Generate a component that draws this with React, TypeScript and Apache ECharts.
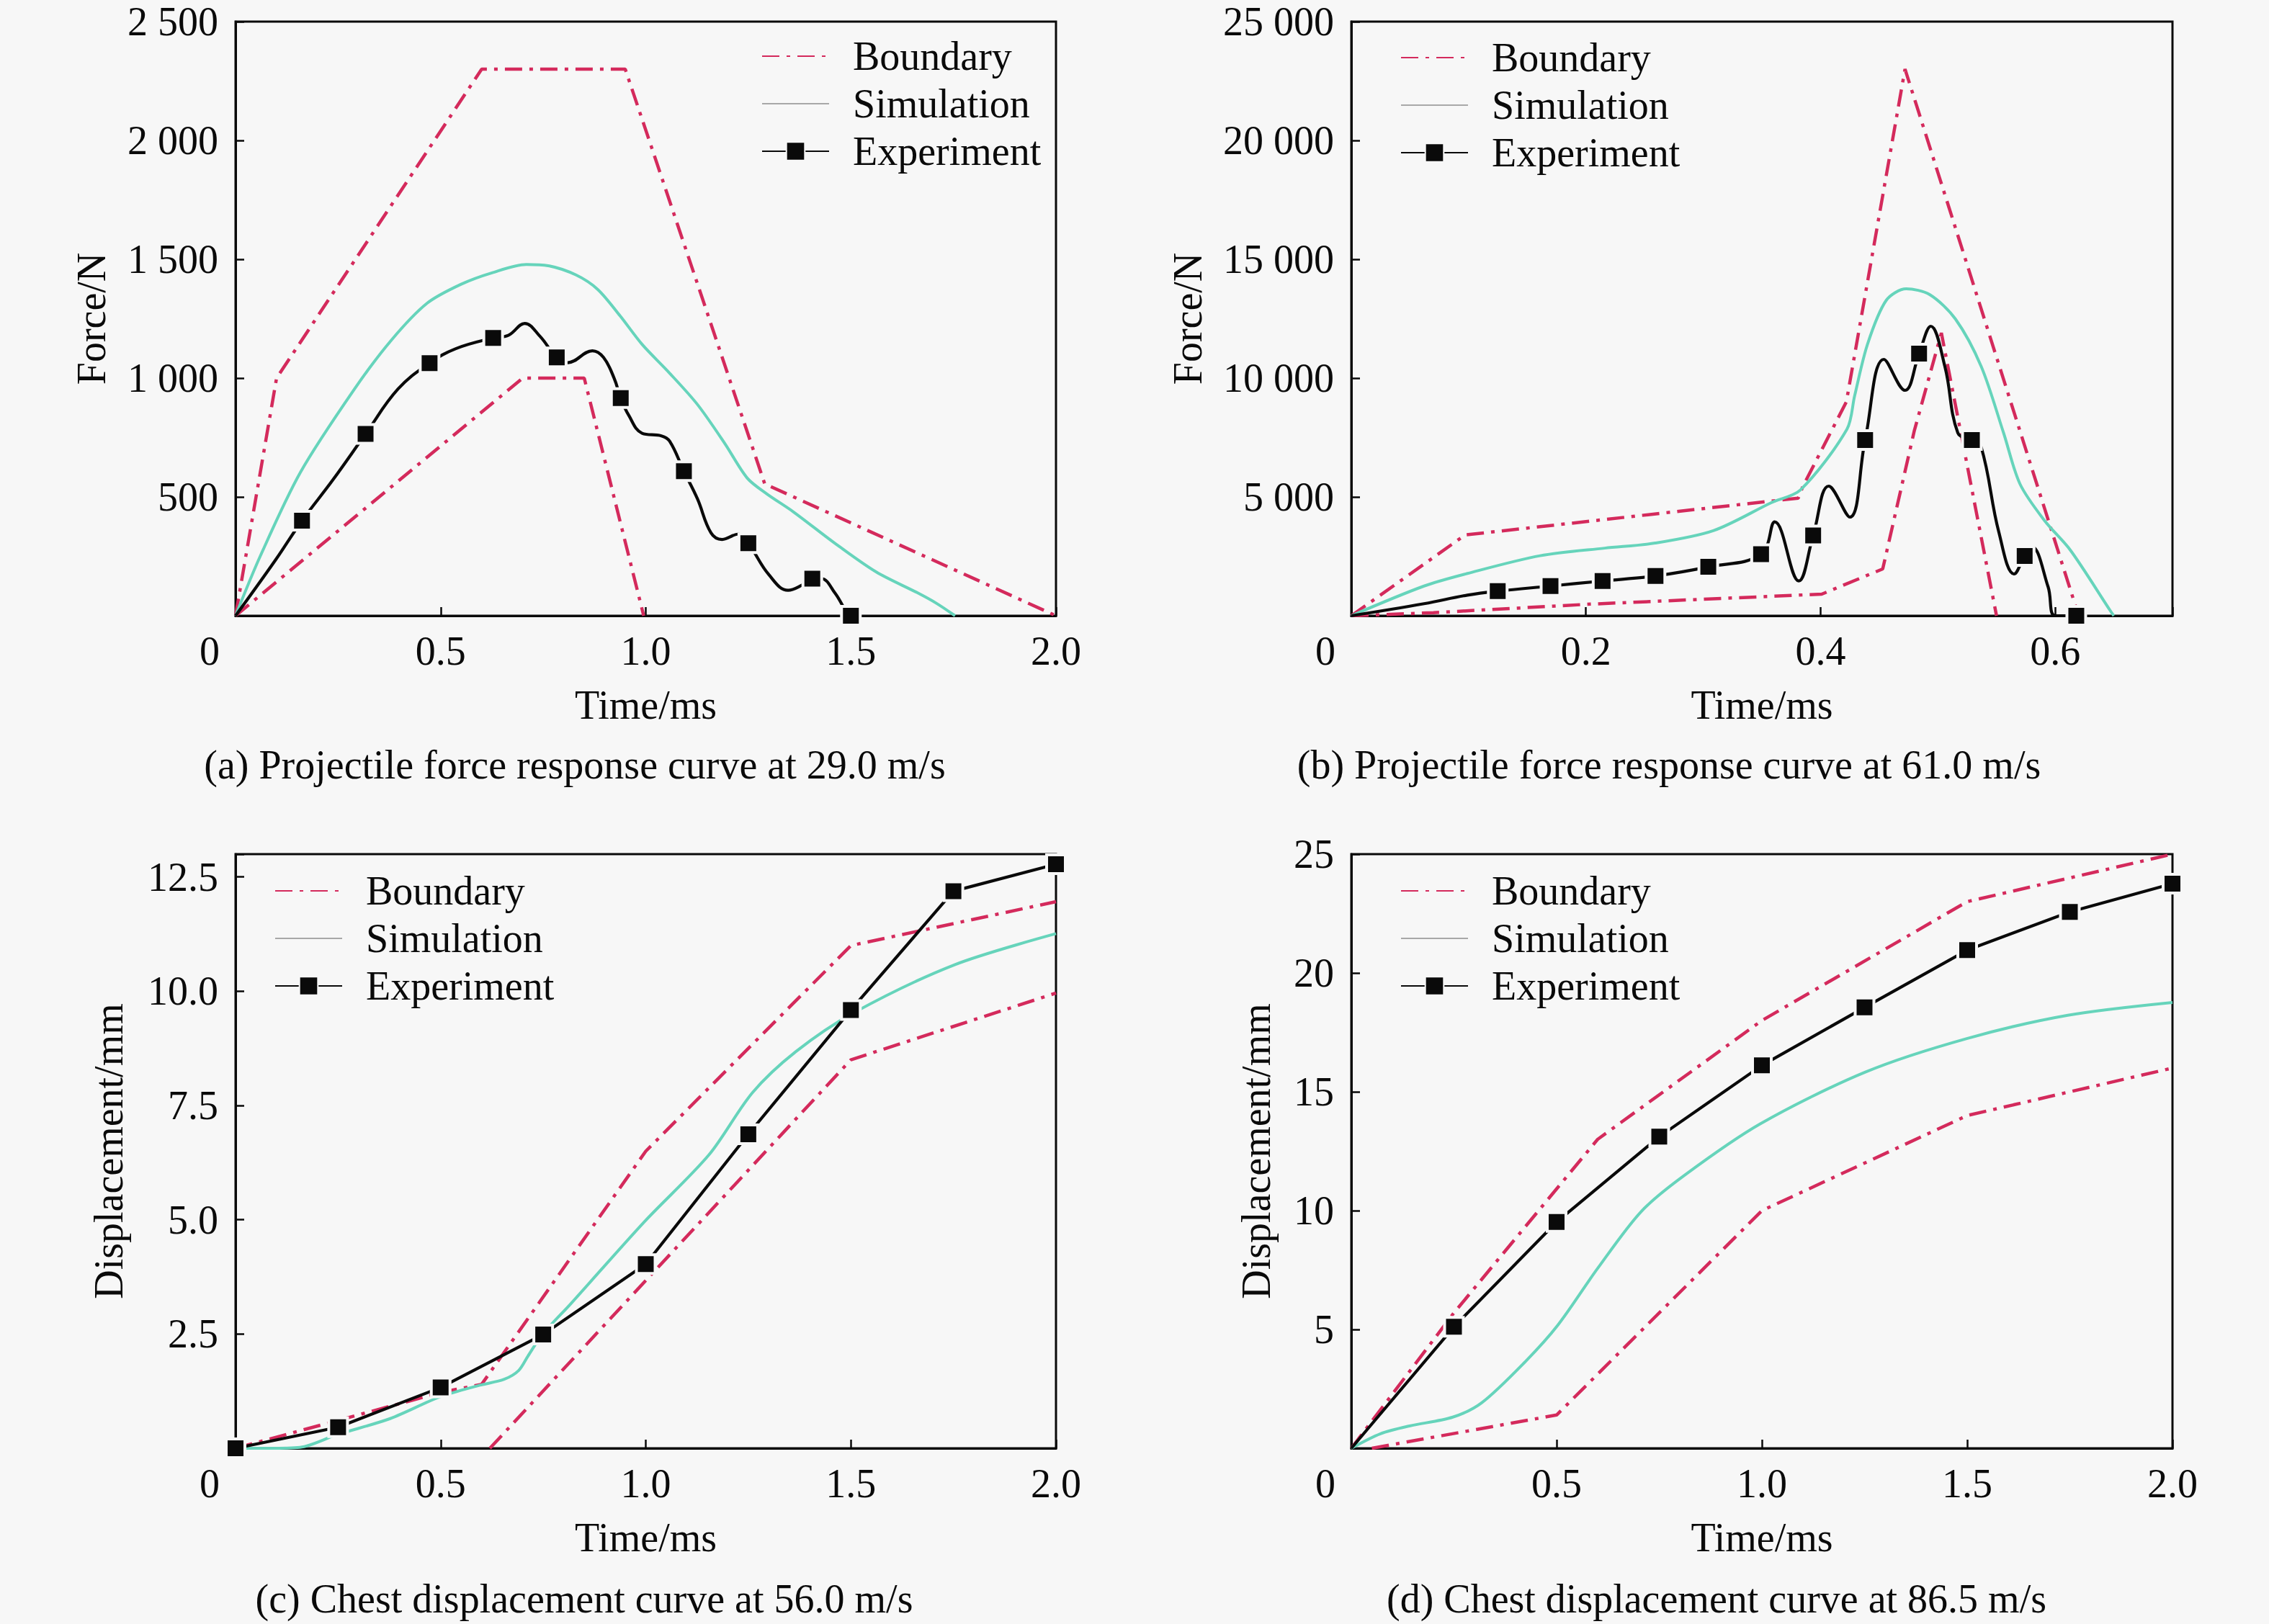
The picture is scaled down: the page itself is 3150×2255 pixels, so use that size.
import React, { useEffect, useRef } from "react";
import * as echarts from "echarts";

const FONT = "'Liberation Serif', 'Times New Roman', Times, serif";
const FS = 56;
const CRIMSON = "#d42a5c";
const TEAL = "#66d4bb";
const BLACK = "#0a0a0a";
const BG = "#f7f7f7";
const LEGEND_GRAY = "#a8a8a8";

// ---------------- tick labels ----------------
const timeTicks = [0, 0.5, 1.0, 1.5, 2.0];
const timeTickLabels = ["0", "0.5", "1.0", "1.5", "2.0"];
const timeTicksB = [0, 0.2, 0.4, 0.6];
const timeTickLabelsB = ["0", "0.2", "0.4", "0.6"];
const forceTicksA = [500, 1000, 1500, 2000, 2500];
const forceTickLabelsA = ["500", "1 000", "1 500", "2 000", "2 500"];
const forceTicksB = [5000, 10000, 15000, 20000, 25000];
const forceTickLabelsB = ["5 000", "10 000", "15 000", "20 000", "25 000"];
const dispTicksC = [2.5, 5, 7.5, 10, 12.5];
const dispTickLabelsC = ["2.5", "5.0", "7.5", "10.0", "12.5"];
const dispTicksD = [5, 10, 15, 20, 25];
const dispTickLabelsD = ["5", "10", "15", "20", "25"];

const legendNames = ["Boundary", "Simulation", "Experiment"];
const captions = [
  "(a) Projectile force response curve at 29.0 m/s",
  "(b) Projectile force response curve at 61.0 m/s",
  "(c) Chest displacement curve at 56.0 m/s",
  "(d) Chest displacement curve at 86.5 m/s",
];

// ---------------- (a) 29.0 m/s force ----------------
const aBoundaryUpper = [[0, 0], [0.1, 1000], [0.6, 2300], [0.95, 2300], [1.29, 555], [2.0, 0]];
const aBoundaryLower = [[0, 0], [0.7, 1000], [0.85, 1000], [0.995, 0]];
const aSimulation = [
  [0, 0], [0.06, 250], [0.158, 603], [0.29, 954], [0.38, 1160], [0.467, 1315], [0.55, 1395],
  [0.625, 1443], [0.709, 1478], [0.762, 1473], [0.83, 1434], [0.883, 1373], [0.937, 1263],
  [0.991, 1142], [1.058, 1021], [1.126, 889], [1.193, 724], [1.247, 580], [1.294, 514],
  [1.36, 437], [1.461, 305], [1.562, 184], [1.663, 96], [1.709, 52], [1.754, 0],
];
// [time, force, marker]
const aExperiment = [
  [0, 0, 0], [0.096, 231, 0], [0.162, 400, 1], [0.237, 571, 0], [0.317, 765, 1], [0.396, 954, 0],
  [0.473, 1063, 1], [0.537, 1124, 0], [0.628, 1169, 1], [0.665, 1180, 0], [0.705, 1230, 0],
  [0.742, 1176, 0], [0.783, 1087, 1], [0.81, 1065, 0], [0.87, 1115, 0], [0.897, 1087, 0],
  [0.923, 999, 0], [0.939, 916, 1], [0.958, 845, 0], [0.991, 768, 0], [1.038, 757, 0],
  [1.058, 735, 0], [1.093, 608, 1], [1.126, 492, 0], [1.159, 349, 0], [1.186, 321, 0],
  [1.226, 344, 0], [1.25, 305, 1], [1.3, 173, 0], [1.347, 107, 0], [1.381, 129, 0],
  [1.406, 156, 1], [1.428, 156, 0], [1.461, 96, 0], [1.492, 8, 0], [1.5, 0, 1],
];

// ---------------- (b) 61.0 m/s force ----------------
const bBoundaryUpper = [[0, 0], [0.097, 3400], [0.381, 4950], [0.385, 5450], [0.422, 9000], [0.472, 23000], [0.602, 2800], [0.62, 0]];
const bBoundaryLower = [[0, 0], [0.07, 130], [0.204, 490], [0.401, 910], [0.453, 1970], [0.48, 7800], [0.503, 11900], [0.55, 0]];
const bSimulation = [
  [0, 0], [0.062, 1250], [0.099, 1780], [0.161, 2527], [0.216, 2845], [0.259, 3058], [0.309, 3588],
  [0.358, 4758], [0.383, 5300], [0.4225, 7850], [0.429, 9242], [0.44, 11424], [0.456, 13273],
  [0.473, 13758], [0.493, 13515], [0.515, 12485], [0.537, 10485], [0.556, 7697], [0.57, 5545],
  [0.591, 4000], [0.613, 2757], [0.647, 212], [0.65, 0],
];
const bExperiment = [
  [0, 0, 0], [0.062, 506, 0], [0.099, 867, 0], [0.1248, 1036, 1], [0.1698, 1251, 1], [0.2142, 1463, 1],
  [0.2593, 1676, 1], [0.3043, 2058, 1], [0.3493, 2588, 1], [0.361, 3949, 0], [0.3814, 1463, 0],
  [0.3937, 3376, 1], [0.407, 5454, 0], [0.425, 4151, 0], [0.438, 7394, 1], [0.454, 10788, 0],
  [0.472, 9485, 0], [0.484, 11030, 1], [0.494, 12182, 0], [0.506, 10485, 0], [0.517, 7697, 0],
  [0.529, 7394, 1], [0.537, 7091, 0], [0.552, 3515, 0], [0.565, 1757, 0], [0.574, 2515, 1],
  [0.58, 2909, 0], [0.594, 1212, 0], [0.6, 0, 0], [0.618, 0, 1],
];

// ---------------- (c) 56.0 m/s displacement ----------------
const cBoundaryUpper = [[0, 0], [0.5, 1.22], [0.6, 1.4], [1.0, 6.5], [1.5, 11.0], [2.0, 11.96]];
const cBoundaryLower = [[0.62, 0], [1.5, 8.5], [2.0, 9.96]];
const cSimulation = [
  [0, 0], [0.08, 0], [0.157, 0.02], [0.248, 0.3], [0.377, 0.65], [0.497, 1.12], [0.596, 1.38],
  [0.655, 1.51], [0.69, 1.7], [0.713, 2.02], [0.748, 2.49], [0.818, 3.17], [0.996, 4.95],
  [1.154, 6.42], [1.26, 7.78], [1.366, 8.68], [1.507, 9.53], [1.753, 10.58], [2.0, 11.26],
];
const cExperiment = [
  [0, 0, 1], [0.25, 0.46, 1], [0.5, 1.33, 1], [0.75, 2.49, 1], [1.0, 4.03, 1], [1.25, 6.87, 1],
  [1.5, 9.59, 1], [1.75, 12.19, 1], [2.0, 12.78, 1],
];

// ---------------- (d) 86.5 m/s displacement ----------------
const dBoundaryUpper = [[0, 0], [0.25, 5.7], [0.6, 13], [1.0, 18], [1.5, 23], [2.0, 25]];
const dBoundaryLower = [[0.05, 0], [0.5, 1.4], [1.0, 10], [1.5, 14], [2.0, 16]];
const dSimulation = [
  [0, 0], [0.071, 0.61], [0.142, 0.94], [0.247, 1.31], [0.318, 1.92], [0.424, 3.65], [0.503, 5.18],
  [0.6, 7.57], [0.706, 9.96], [0.811, 11.48], [0.996, 13.65], [1.252, 15.83], [1.499, 17.24],
  [1.745, 18.22], [2.0, 18.76],
];
const dExperiment = [
  [0, 0, 0], [0.25, 5.11, 1], [0.5, 9.52, 1], [0.75, 13.11, 1], [1.0, 16.11, 1], [1.25, 18.55, 1],
  [1.5, 20.96, 1], [1.75, 22.57, 1], [2.0, 23.76, 1],
];

// ---------------- layout (not data) ----------------
const grids = [
  { left: 327, top: 30, width: 1139, height: 825 },
  { left: 1876, top: 30, width: 1140, height: 825 },
  { left: 327, top: 1186, width: 1139, height: 825 },
  { left: 1876, top: 1186, width: 1140, height: 825 },
];
const legendPos = [
  { left: 1057, top: 50 },
  { left: 1944, top: 52 },
  { left: 381, top: 1209 },
  { left: 1944, top: 1209 },
];
const captionPos = [
  [798, 1062],
  [2317, 1062],
  [811, 2220],
  [2383, 2220],
];

function labelFormatter(ticks: number[], labels: string[], shiftZero: boolean) {
  return (v: number) => {
    const i = ticks.findIndex((t) => Math.abs(t - v) < 1e-9);
    if (i < 0) return "";
    const s = labels[i];
    if (shiftZero && v === 0) return `{z|${s}}`;
    return s;
  };
}

function buildOption() {
  const xCfg = [
    { max: 2, interval: 0.5, ticks: timeTicks, labels: timeTickLabels },
    { max: 0.7, interval: 0.2, ticks: timeTicksB, labels: timeTickLabelsB },
    { max: 2, interval: 0.5, ticks: timeTicks, labels: timeTickLabels },
    { max: 2, interval: 0.5, ticks: timeTicks, labels: timeTickLabels },
  ];
  const yCfg = [
    { max: 2500, interval: 500, ticks: forceTicksA, labels: forceTickLabelsA, name: "Force/N", gap: 172 },
    { max: 25000, interval: 5000, ticks: forceTicksB, labels: forceTickLabelsB, name: "Force/N", gap: 199 },
    { max: 13, interval: 2.5, ticks: dispTicksC, labels: dispTickLabelsC, name: "Displacement/mm", gap: 148 },
    { max: 25, interval: 5, ticks: dispTicksD, labels: dispTickLabelsD, name: "Displacement/mm", gap: 104 },
  ];
  const panels = [
    { up: aBoundaryUpper, low: aBoundaryLower, sim: aSimulation, exp: aExperiment, smoothExp: true },
    { up: bBoundaryUpper, low: bBoundaryLower, sim: bSimulation, exp: bExperiment, smoothExp: true },
    { up: cBoundaryUpper, low: cBoundaryLower, sim: cSimulation, exp: cExperiment, smoothExp: false },
    { up: dBoundaryUpper, low: dBoundaryLower, sim: dSimulation, exp: dExperiment, smoothExp: false },
  ];

  const textBase = { fontFamily: FONT, fontSize: FS, color: BLACK };

  const xAxis = xCfg.map((c, i) => ({
    type: "value",
    gridIndex: i,
    min: 0,
    max: c.max,
    interval: c.interval,
    name: "Time/ms",
    nameLocation: "middle",
    nameGap: 96,
    nameTextStyle: { ...textBase },
    axisLine: { show: true, onZero: false, lineStyle: { color: BLACK, width: 3 } },
    axisTick: { show: true, inside: true, length: 12, lineStyle: { color: BLACK, width: 2.5 } },
    splitLine: { show: false },
    axisLabel: {
      ...textBase,
      margin: 21,
      formatter: labelFormatter(c.ticks, c.labels, true),
      rich: { z: { ...textBase, padding: [0, 72, 0, 0] } },
    },
  }));

  const yAxis = yCfg.map((c, i) => ({
    type: "value",
    gridIndex: i,
    min: 0,
    max: c.max,
    interval: c.interval,
    name: c.name,
    nameLocation: "middle",
    nameGap: c.gap,
    nameTextStyle: { ...textBase },
    axisLine: { show: true, onZero: false, lineStyle: { color: BLACK, width: 3 } },
    axisTick: { show: true, inside: true, length: 12, lineStyle: { color: BLACK, width: 2.5 } },
    splitLine: { show: false },
    axisLabel: {
      ...textBase,
      margin: 24,
      formatter: labelFormatter(c.ticks, c.labels, false),
    },
  }));

  const boundaryStyle = { color: CRIMSON, width: 4.5, type: [24, 10, 5, 10] };
  const series: any[] = [];
  panels.forEach((p, i) => {
    [p.up, p.low].forEach((d) => {
      series.push({
        name: "Boundary",
        type: "line",
        xAxisIndex: i,
        yAxisIndex: i,
        data: d,
        symbol: "none",
        showSymbol: false,
        lineStyle: boundaryStyle,
        itemStyle: { color: CRIMSON },
        z: 2,
        clip: true,
      });
    });
    series.push({
      name: "Simulation",
      type: "line",
      xAxisIndex: i,
      yAxisIndex: i,
      data: p.sim,
      symbol: "none",
      showSymbol: false,
      smooth: 0.3,
      lineStyle: { color: TEAL, width: 4 },
      itemStyle: { color: TEAL },
      z: 3,
      clip: true,
    });
    series.push({
      name: "Experiment",
      type: "line",
      xAxisIndex: i,
      yAxisIndex: i,
      data: p.exp.map((pt) => ({
        value: [pt[0], pt[1]],
        symbol: pt[2] ? "rect" : "none",
      })),
      symbol: "rect",
      symbolSize: 26,
      showSymbol: true,
      smooth: p.smoothExp ? 0.4 : false,
      lineStyle: { color: BLACK, width: 4.2 },
      itemStyle: { color: BLACK, borderColor: BG, borderWidth: 4 },
      z: 4,
      clip: true,
    });
  });

  const legend = legendPos.map((pos) => ({
    orient: "vertical",
    left: pos.left,
    top: pos.top,
    padding: 0,
    itemWidth: 93,
    itemHeight: 32,
    itemGap: 10,
    selectedMode: false,
    textStyle: { ...textBase, lineHeight: 55, padding: [0, 0, 0, 28] },
    data: [
      { name: legendNames[0], itemStyle: { opacity: 0 } },
      { name: legendNames[1], itemStyle: { opacity: 0 }, lineStyle: { color: LEGEND_GRAY } },
      { name: legendNames[2] },
    ],
  }));

  const graphic = captions.map((c, i) => ({
    type: "text",
    x: captionPos[i][0],
    y: captionPos[i][1],
    style: {
      text: c,
      fontFamily: FONT,
      fontSize: FS,
      fill: BLACK,
      align: "center",
      verticalAlign: "middle",
    },
  }));

  return {
    animation: false,
    backgroundColor: BG,
    grid: grids.map((g) => ({ ...g, show: true, borderColor: BLACK, borderWidth: 3, backgroundColor: "transparent" })),
    xAxis,
    yAxis,
    legend,
    series,
    graphic,
  };
}

export default function App() {
  const ref = useRef<HTMLDivElement>(null);
  useEffect(() => {
    if (!ref.current) return;
    const chart = echarts.init(ref.current, undefined, { renderer: "svg" });
    chart.setOption(buildOption() as any);
    return () => chart.dispose();
  }, []);
  return (
    <div
      ref={ref}
      style={{ position: "absolute", left: 0, top: 0, width: 3150, height: 2255, background: BG }}
    />
  );
}
